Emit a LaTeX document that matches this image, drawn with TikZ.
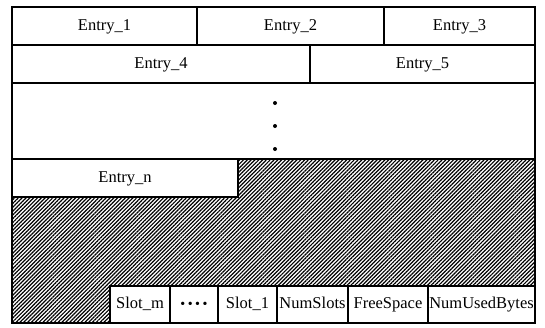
\documentclass[tikz,border=0pt]{standalone}
\usepackage{fontspec}
\setmainfont{Liberation Serif}
\usetikzlibrary{patterns.meta}
\begin{document}
\begin{tikzpicture}[x=1pt,y=-1pt,
  cell/.style={draw, line width=1.9pt, inner sep=0pt, outer sep=0pt, anchor=north west,
    font=\fontsize{16.5}{19}\selectfont, text height=11.5pt, text depth=3.5pt},
  hatch/.style={pattern={Lines[angle=45,distance=2.7pt,line width=1.2pt]}},
  vdot/.style={circle, fill, inner sep=0pt, minimum size=4pt}]
\useasboundingbox (0,0) rectangle (545,327);
% hatched free area
\fill[hatch] (238,159) -- (535,159) -- (535,286) -- (110,286) -- (110,323) -- (12,323) -- (12,197) -- (238,197) -- cycle;
% outer frame
\draw[line width=2pt] (12,7) rectangle (535,323);
\draw[line width=1.9pt] (12,159) -- (535,159);
% entries
\node[cell, minimum width=185pt, minimum height=38pt] (e1) at (12,7) {Entry\_1};
\node[cell, minimum width=187pt, minimum height=38pt] (e2) at (197,7) {Entry\_2};
\node[cell, minimum width=151pt, minimum height=38pt] (e3) at (384,7) {Entry\_3};
\node[cell, minimum width=298pt, minimum height=38pt] (e4) at (12,45) {Entry\_4};
\node[cell, minimum width=225pt, minimum height=38pt] (e5) at (310,45) {Entry\_5};
\node[cell, fill=white, minimum width=226pt, minimum height=38pt] (en) at (12,159) {Entry\_n};
% vertical dots
\node[vdot] (d1) at (275,103) {};
\node[vdot] (d2) at (275,126) {};
\node[vdot] (d3) at (275,149) {};
% slots
\node[cell, fill=white, minimum width=60pt, minimum height=37pt] (sm) at (110,286) {Slot\_m};
\node[cell, fill=white, minimum width=48pt, minimum height=37pt] (sd) at (170,286) {\fontsize{14}{14}\selectfont •\hspace{2.5pt}•\hspace{2.5pt}•\hspace{2.5pt}•};
\node[cell, fill=white, minimum width=59pt, minimum height=37pt] (s1) at (218,286) {Slot\_1};
\node[cell, fill=white, minimum width=71pt, minimum height=37pt] (ns) at (277,286) {NumSlots};
\node[cell, fill=white, minimum width=80pt, minimum height=37pt] (fs) at (348,286) {FreeSpace};
\node[cell, fill=white, minimum width=107pt, minimum height=37pt] (nu) at (428,286) {NumUsedBytes};
\end{tikzpicture}
\end{document}
